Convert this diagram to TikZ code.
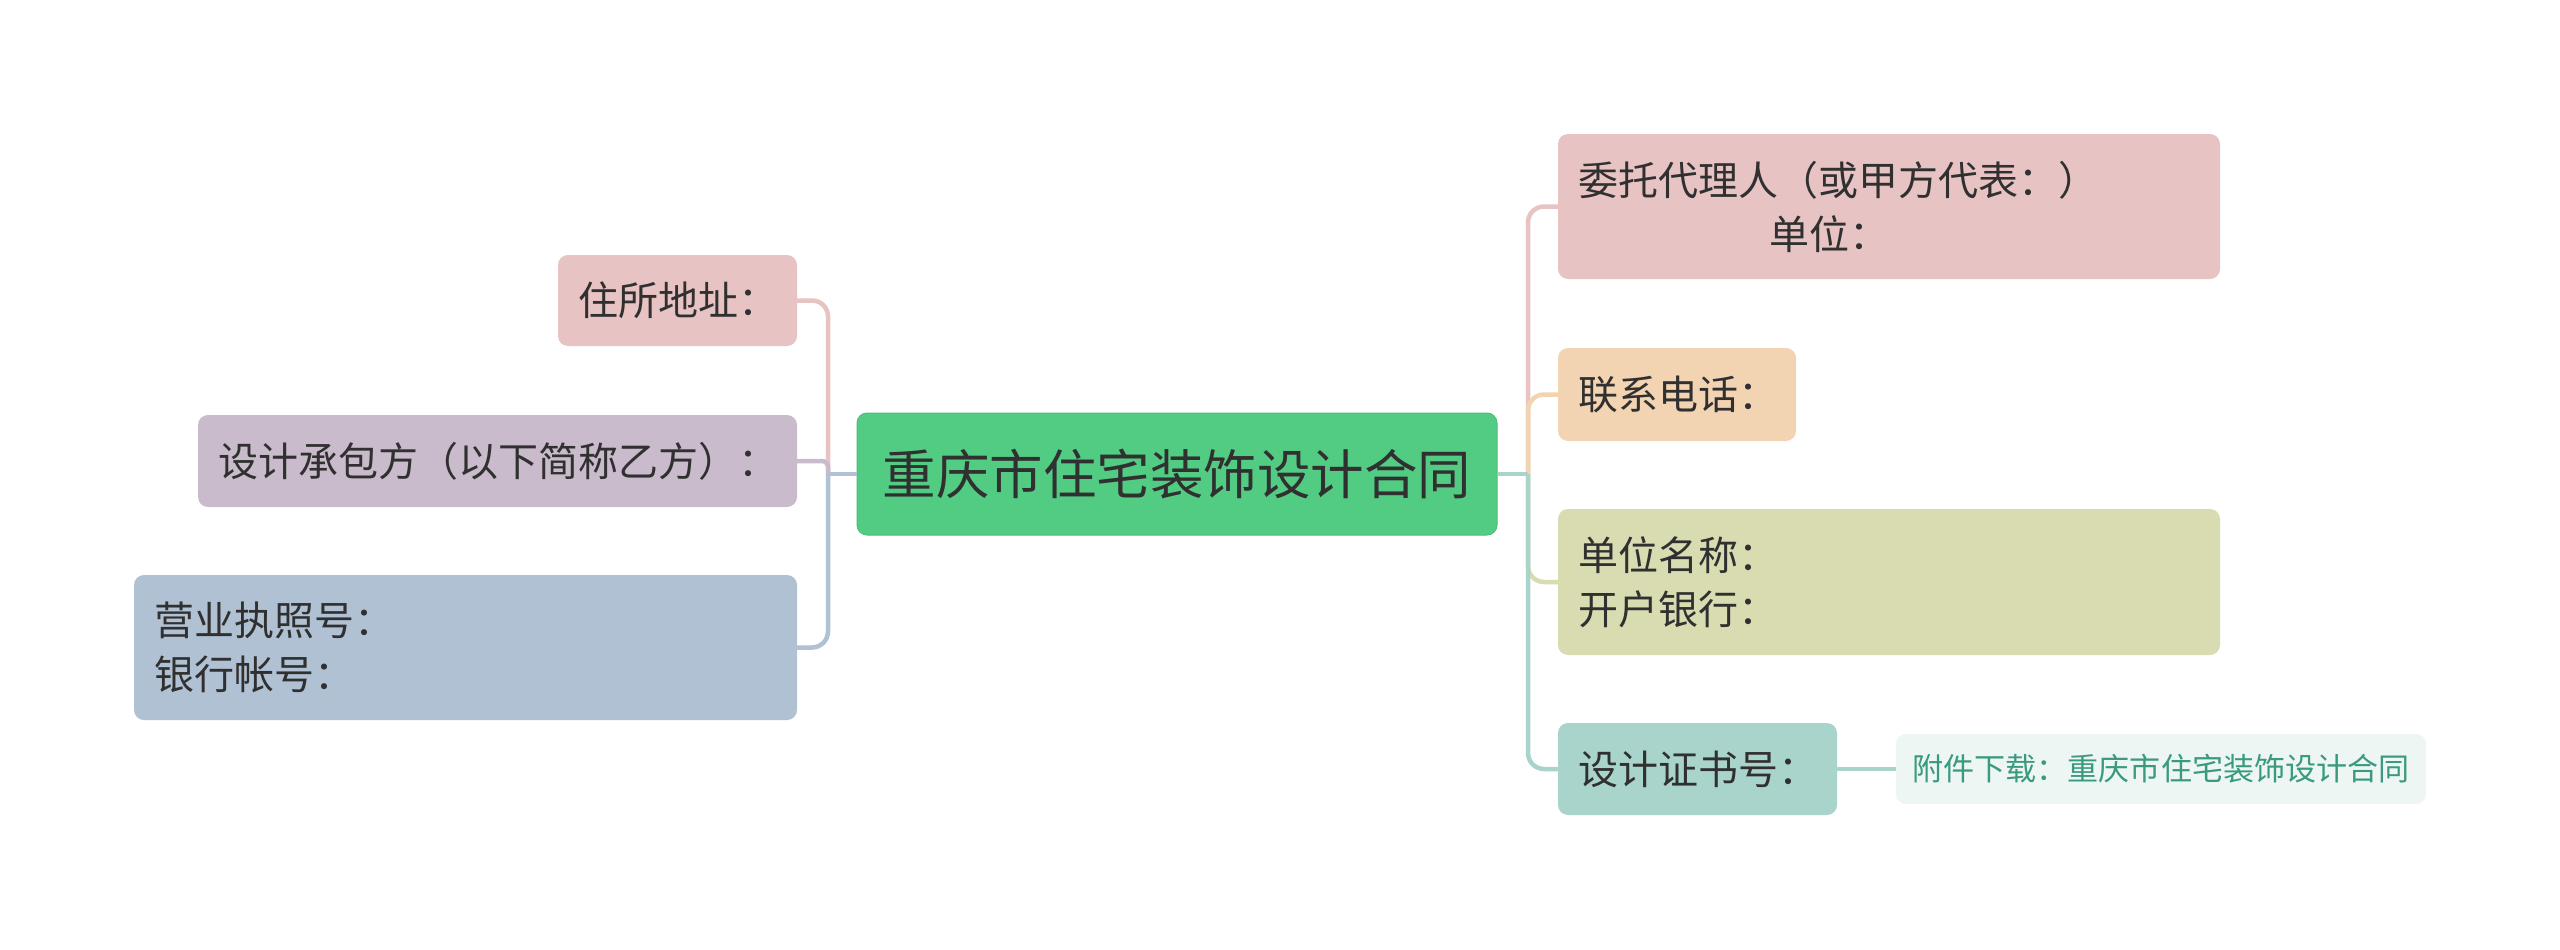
\documentclass[tikz,border=0pt]{standalone}
\usepackage{fontspec}
\usepackage{graphicx}
\newfontfamily\cjk{Noto Sans CJK SC}
\definecolor{cgreen}{HTML}{52CB83}
\definecolor{cgreenb}{HTML}{4CC07C}
\definecolor{cpink}{HTML}{E8C3C3}
\definecolor{cpurp}{HTML}{C9BBCB}
\definecolor{cblue}{HTML}{B0C1D3}
\definecolor{corange}{HTML}{F3D4B2}
\definecolor{colive}{HTML}{D9DCB0}
\definecolor{cteal}{HTML}{A9D4CB}
\definecolor{clight}{HTML}{EEF6F4}
\definecolor{cattxt}{HTML}{3A9A80}
\definecolor{txt}{HTML}{303030}
\begin{document}
\begin{tikzpicture}[x=1pt,y=-1pt,
  box/.style={rectangle, rounded corners=10pt, inner xsep=20pt, inner ysep=0pt,
    font=\cjk\fontsize{40}{54}\selectfont, text=txt, align=left, anchor=center},
  attbox/.style={rectangle, rounded corners=10pt, inner sep=0pt,
    font=\cjk\fontsize{40}{50}\selectfont, text=cattxt, fill=clight, align=center, anchor=center},
  conn/.style={line width=4.5pt, rounded corners=16pt}]
\fill[white] (0,0) rectangle (2560,950);
\useasboundingbox (0,0) rectangle (2560,950);
% central
\node[box, fill=cgreen, draw=cgreenb, line width=1pt, align=center, inner xsep=0pt,
  minimum width=640pt, minimum height=122pt]
  (c) at (1177,474) {\fontsize{53.5}{60}\selectfont 重庆市住宅装饰设计合同};
% left
\node[box, fill=cpink, minimum width=239pt, text width=199pt, minimum height=91pt]
  (l1) at (677.5,300.5) {住所地址：};
\node[box, fill=cpurp, minimum width=599pt, text width=559pt, minimum height=92pt]
  (l2) at (497.5,461) {设计承包方（以下简称乙方）：};
\node[box, fill=cblue, minimum width=663pt, text width=623pt, minimum height=145pt]
  (l3) at (465.5,647.5) {营业执照号：\\银行帐号：};
% right
\node[box, fill=cpink, minimum width=662pt, text width=622pt, minimum height=145pt]
  (r1) at (1889,206.5) {委托代理人（或甲方代表：）\\\hspace*{191pt}单位：};
\node[box, fill=corange, minimum width=238pt, text width=198pt, minimum height=93pt]
  (r2) at (1677,394.5) {联系电话：};
\node[box, fill=colive, minimum width=662pt, text width=622pt, minimum height=146pt]
  (r3) at (1889,582) {单位名称：\\开户银行：};
\node[box, fill=cteal, minimum width=279pt, text width=239pt, minimum height=92pt]
  (r4) at (1697.5,769) {设计证书号：};
\node[attbox, minimum width=530pt, minimum height=70pt]
  (a) at (2161,769) {\resizebox{497pt}{!}{附件下载：重庆市住宅装饰设计合同}};
% junctions
\coordinate (lj) at (828,474);
\coordinate (rj) at (1528,474);
% left connectors
\draw[conn, cpink] (lj) |- (l1.east);
\draw[conn, cpurp, rounded corners=6pt] (lj) |- (l2.east);
\draw[conn, cblue] (lj) |- (l3.east);
\draw[conn, cblue] (c.west) -- (lj);
% right connectors
\draw[conn, cpink] (rj) |- (r1.west);
\draw[conn, corange] (rj) |- (r2.west);
\draw[conn, colive] (rj) |- (r3.west);
\draw[conn, cteal] (rj) |- (r4.west);
\draw[conn, cteal] (c.east) -- (rj);
\draw[conn, cteal] (r4.east) -- (a.west);
\end{tikzpicture}
\end{document}
